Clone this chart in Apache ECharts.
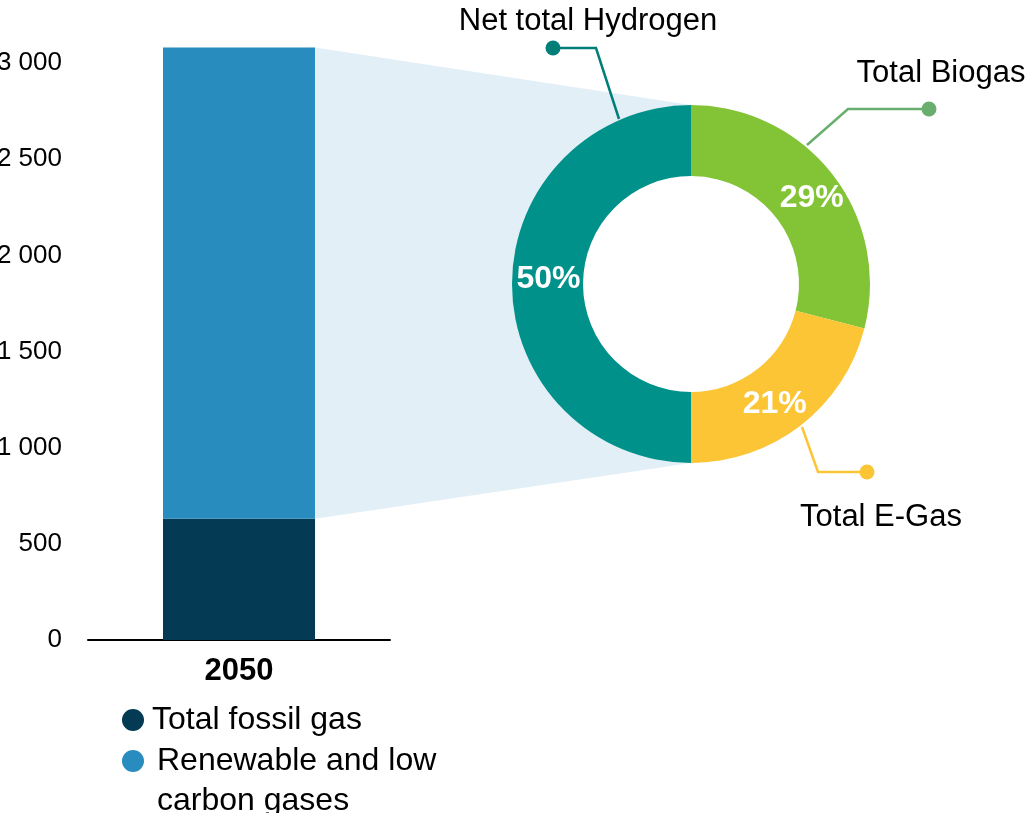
<!DOCTYPE html>
<html><head><meta charset="utf-8">
<script src="https://cdn.jsdelivr.net/npm/echarts@6/dist/echarts.min.js"></script>
<style>html,body{margin:0;padding:0;background:#fff}#c{width:1031px;height:813px}</style>
</head><body><div id="c"></div>
<script>
// ---- data ----
const categories = ['2050'];
const fossilGas = [630];
const renewableGas = [2450];
const barSeriesNames = ['Total fossil gas', 'Renewable and low carbon gases'];
const mixNames = ['Total Biogas', 'Total E-Gas', 'Net total Hydrogen'];
const mixShares = [29, 21, 50];
const yAxisMax = 3100;
const yAxisStep = 500;

// ---- style / layout ----
const FONT = 'Liberation Sans, Arial, sans-serif';
const barColors = ['#043A54', '#298CBE'];
const mixColors = ['#83C436', '#FBC536', '#00918A'];
const mixLineColors = ['#6AAE6E', '#FBC536', '#007E79'];
const PIE_C = [691, 284];
const PIE_R = [108, 179];
// label guide geometry, offsets from pie centre
const guideGeom = [
  { line: [[116, -139], [157, -175], [238, -175]], text: [250, -211], pct: [5, 4] },
  { line: [[111, 143], [127, 188], [176, 188]], text: [190, 233], pct: [-6, 4] },
  { line: [[-72, -165], [-95, -236], [-138, -236]], text: [-103, -263], pct: [4, -5] }
];
const off = p => [PIE_C[0] + p[0], PIE_C[1] + p[1]];

const chart = echarts.init(document.getElementById('c'), null, { renderer: 'canvas' });

const fmtThousands = v => String(v).replace(/\B(?=(\d{3})+(?!\d))/g, ' ');

chart.setOption({
  animation: false,
  textStyle: { fontFamily: FONT },
  grid: { left: 88, right: 641, top: 640 - yAxisMax * 577 / 3000, bottom: 173, containLabel: false, outerBoundsMode: 'none' },
  xAxis: {
    type: 'category', data: categories,
    axisLine: { lineStyle: { color: '#000', width: 2 } },
    axisTick: { show: false },
    axisLabel: { fontSize: 31, fontWeight: 'bold', color: '#000', margin: 16, fontFamily: FONT }
  },
  yAxis: {
    type: 'value', min: 0, max: yAxisMax, interval: yAxisStep,
    splitLine: { show: false }, axisLine: { show: false }, axisTick: { show: false },
    axisLabel: { fontSize: 26, color: '#000', margin: 26, showMaxLabel: false, fontFamily: FONT, formatter: fmtThousands }
  },
  legend: {
    orient: 'vertical', left: 122, top: 700, height: 400, padding: 0,
    itemWidth: 22, itemHeight: 22, itemGap: -39,
    icon: 'circle', selectedMode: false,
    textStyle: { fontSize: 32, lineHeight: 40, color: '#000', fontFamily: FONT },
    data: [
      { name: barSeriesNames[0], textStyle: { padding: [0, 0, 0, 3] } },
      { name: barSeriesNames[1], textStyle: { padding: [0, 0, 0, 8] } }
    ],
    formatter: n => n.indexOf(' carbon') >= 0 ? ' \n' + n.replace(' carbon', '\ncarbon') : n
  },
  series: [
    { name: barSeriesNames[0], type: 'bar', stack: 'total', barWidth: 152, data: fossilGas,
      itemStyle: { color: barColors[0] }, silent: true },
    { name: barSeriesNames[1], type: 'bar', stack: 'total', barWidth: 152, data: renewableGas,
      itemStyle: { color: barColors[1] }, silent: true },
    { name: 'mix', type: 'pie', center: PIE_C, radius: PIE_R, startAngle: 90, clockwise: true,
      silent: true, avoidLabelOverlap: false, z: 3,
      data: mixNames.map((n, i) => ({ name: n, value: mixShares[i], itemStyle: { color: mixColors[i] },
        label: { offset: guideGeom[i].pct } })),
      label: { show: true, position: 'inside', formatter: '{c}%', color: '#fff', fontSize: 32, fontWeight: 'bold', fontFamily: FONT },
      labelLine: { show: false }
    },
    { name: 'mixNames', type: 'pie', center: PIE_C, radius: PIE_R, startAngle: 90, clockwise: true,
      silent: true, avoidLabelOverlap: false, z: 4,
      data: mixNames.map((n, i) => ({ name: n, value: mixShares[i], itemStyle: { color: 'transparent' },
        labelLine: { lineStyle: { color: mixLineColors[i], width: 2.5 } } })),
      label: { show: true, position: 'outside', formatter: '{b}', color: '#000', fontSize: 31, fontFamily: FONT },
      labelLine: { show: true, length: 20, length2: 20 },
      labelLayout: p => {
        const g = guideGeom[p.dataIndex];
        const t = off(g.text);
        return { x: t[0], y: t[1], align: 'center', verticalAlign: 'middle', labelLinePoints: g.line.map(off) };
      }
    }
  ]
});

// connector band from bar to donut, white donut hole, end dots of guide lines
const barLayout = chart.getModel().getSeriesByIndex(1).getData().getItemLayout(0);
const barRight = Math.max(barLayout.x, barLayout.x + barLayout.width);
const yTop = chart.convertToPixel({ yAxisIndex: 0 }, fossilGas[0] + renewableGas[0]);
const yFossil = chart.convertToPixel({ yAxisIndex: 0 }, fossilGas[0]);
chart.setOption({
  graphic: [
    { type: 'polygon', z: 0, silent: true,
      shape: { points: [[barRight, yTop], [PIE_C[0], PIE_C[1] - PIE_R[1]], [PIE_C[0], PIE_C[1] + PIE_R[1]], [barRight, yFossil]] },
      style: { fill: '#E3EFF6' } },
    { type: 'circle', z: 1, silent: true, shape: { cx: PIE_C[0], cy: PIE_C[1], r: PIE_R[0] }, style: { fill: '#fff' } }
  ].concat(guideGeom.map((g, i) => {
    const p = off(g.line[2]);
    return { type: 'circle', z: 10, silent: true, shape: { cx: p[0], cy: p[1], r: 7.5 }, style: { fill: mixLineColors[i] } };
  }))
});
</script></body></html>
